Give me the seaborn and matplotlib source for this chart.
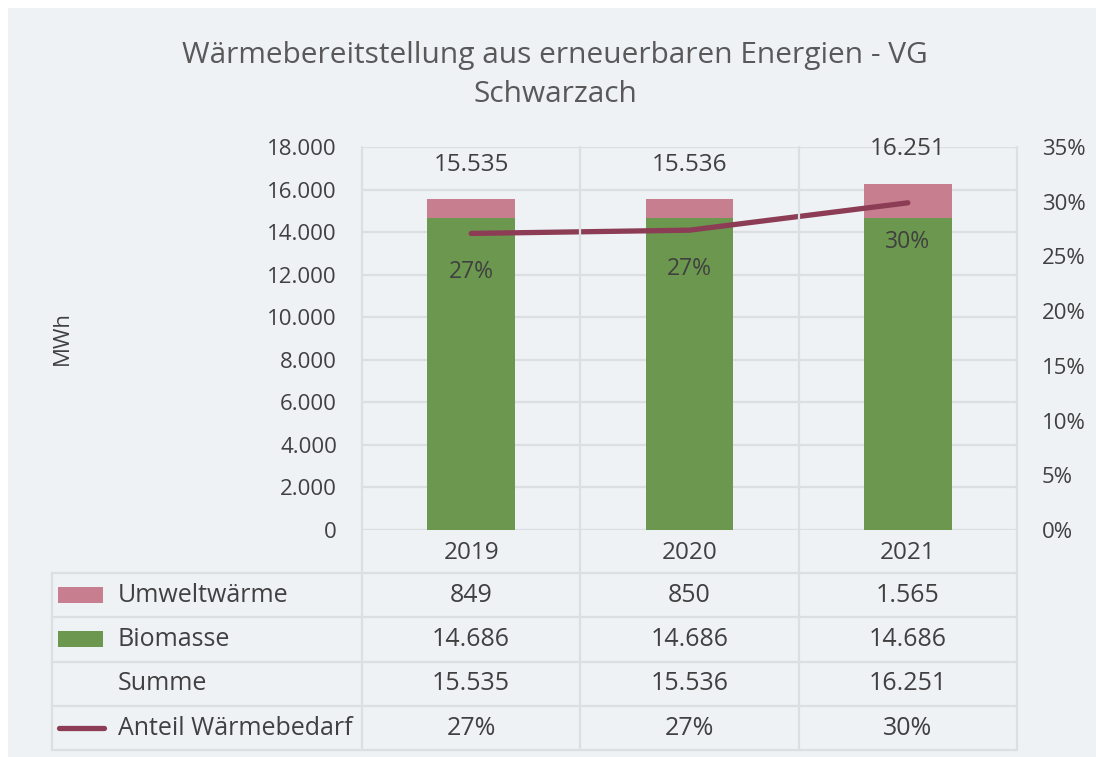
import numpy as np
import pandas as pd
import matplotlib
matplotlib.use("Agg")
import matplotlib.pyplot as plt
from matplotlib.patches import Rectangle
from matplotlib.lines import Line2D
from matplotlib.ticker import FuncFormatter
from matplotlib.transforms import blended_transform_factory
import seaborn as sns

# --- data -------------------------------------------------------------
years = ["2019", "2020", "2021"]
umweltwaerme = [849, 850, 1565]          # MWh
biomasse = [14686, 14686, 14686]         # MWh
anteil = [0.271, 0.274, 0.299]           # share of total heat demand
summe = [u + b for u, b in zip(umweltwaerme, biomasse)]

row_labels = ["Umweltwärme", "Biomasse", "Summe", "Anteil Wärmebedarf"]
title = "Wärmebereitstellung aus erneuerbaren Energien - VG\nSchwarzach"


def de(n):
    """German thousands separator."""
    return f"{int(round(n)):,}".replace(",", ".")


def pct(v):
    return f"{v * 100:.0f}%"


# --- style ------------------------------------------------------------
BG = "#EEF2F5"
GRID = "#DCDFE2"
TXT = "#404040"
PINK = "#C77E8F"
GREEN = "#6B974E"
LINE = "#8C3C55"
FS_TICK = 16
FS_LAB = 17.5
FS_TAB = 18

sns.set_theme(style="white")
plt.rcParams["font.family"] = ["Open Sans", "DejaVu Sans"]

W, H = 1096, 757
fig = plt.figure(figsize=(W / 100, H / 100), dpi=100)
fig.patch.set_facecolor("white")


def fx(px):
    return px / W


def fy(py):
    return 1 - py / H


fig.add_artist(Rectangle((fx(8), 0), 1 - fx(8), fy(8), transform=fig.transFigure,
                         facecolor=BG, edgecolor="none", zorder=-10))

# plot area
L, R, T, B = 362, 1017, 147, 530
ax = fig.add_axes([fx(L), fy(B), fx(R) - fx(L), fy(T) - fy(B)])
ax.set_facecolor("none")

df = pd.DataFrame({"Jahr": years, "Umweltwärme": umweltwaerme,
                   "Biomasse": biomasse, "Summe": summe, "Anteil": anteil})

# stacked columns: total (pink top part) with biomass drawn over it
sns.barplot(data=df, x="Jahr", y="Summe", color=PINK, width=0.4, saturation=1,
            linewidth=0, ax=ax, zorder=2)
sns.barplot(data=df, x="Jahr", y="Biomasse", color=GREEN, width=0.4, saturation=1,
            linewidth=0, ax=ax, zorder=3)

ax.set_ylim(0, 18000)
ax.set_yticks(np.arange(0, 18001, 2000))
ax.yaxis.set_major_formatter(FuncFormatter(lambda v, p: de(v)))
ax.yaxis.grid(True, color=GRID, lw=1.6)
ax.set_axisbelow(True)
ax.tick_params(axis="y", length=0, pad=18, labelsize=FS_TICK, labelcolor=TXT)
ax.tick_params(axis="x", length=0, pad=8, labelsize=FS_LAB, labelcolor=TXT)
ax.set_xlabel("")
ax.set_ylabel("")
for s in ax.spines.values():
    s.set_visible(False)

# total labels above columns
for i, s in enumerate(summe):
    ax.annotate(de(s), (i, s), xytext=(0, 25), textcoords="offset points",
                ha="center", va="center", fontsize=FS_LAB, color=TXT, zorder=5)

# share line on secondary axis
ax2 = ax.twinx()
sns.lineplot(x=np.arange(len(years)), y=anteil, ax=ax2, color=LINE, lw=3.8,
             solid_capstyle="round", zorder=4)
ax2.set_ylim(0, 0.35)
ax2.set_yticks(np.arange(0, 0.351, 0.05))
ax2.yaxis.set_major_formatter(FuncFormatter(lambda v, p: pct(v)))
ax2.tick_params(axis="y", length=0, pad=18, labelsize=FS_TICK, labelcolor=TXT)
ax2.grid(False)
ax2.set_ylabel("")
for s in ax2.spines.values():
    s.set_visible(False)
for i, a in enumerate(anteil):
    ax2.annotate(pct(a), (i, a), xytext=(0, -28), textcoords="offset points",
                 ha="center", va="center", fontsize=16.5, color=TXT, zorder=5)

ax.set_xlim(-0.5, len(years) - 0.5)

# --- data table below the plot ---------------------------------------
bt = blended_transform_factory(ax.transData, fig.transFigure)
tab_left = 52
row_top = 573
row_h = 44.3
n_rows = len(row_labels)
tab_bottom = row_top + n_rows * row_h

# vertical separators (category borders) from plot top to table bottom
for xe in np.arange(len(years) + 1) - 0.5:
    fig.add_artist(Line2D([xe, xe], [fy(T), fy(tab_bottom)], transform=bt,
                          color=GRID, lw=1.6, zorder=1))
fig.add_artist(Line2D([fx(tab_left)] * 2, [fy(row_top), fy(tab_bottom)],
                      transform=fig.transFigure, color=GRID, lw=1.6, zorder=1))
for k in range(n_rows + 1):
    yy = fy(row_top + k * row_h)
    fig.add_artist(Line2D([fx(tab_left), fx(R)], [yy, yy], transform=fig.transFigure,
                          color=GRID, lw=1.6, zorder=1))

rows = [[de(v) for v in umweltwaerme], [de(v) for v in biomasse],
        [de(v) for v in summe], [pct(v) for v in anteil]]
for k, (lab, vals) in enumerate(zip(row_labels, rows)):
    yc = fy(row_top + (k + 0.5) * row_h)
    fig.text(fx(118), yc, lab, ha="left", va="center", fontsize=FS_TAB, color=TXT)
    for i, v in enumerate(vals):
        fig.text(i, yc, v, transform=bt, ha="center", va="center",
                 fontsize=FS_TAB, color=TXT)

# legend keys
def key_rect(k, color):
    yc = row_top + (k + 0.5) * row_h
    fig.add_artist(Rectangle((fx(58), fy(yc + 8)), fx(103) - fx(58), 16 / H,
                             transform=fig.transFigure, facecolor=color,
                             edgecolor="none"))

key_rect(0, PINK)
key_rect(1, GREEN)
yc = fy(row_top + 3.5 * row_h)
fig.add_artist(Line2D([fx(59), fx(104)], [yc, yc], transform=fig.transFigure,
                      color=LINE, lw=3.8, solid_capstyle="round"))

# title and axis label
fig.text(fx(555), fy(75), title, ha="center", va="center", fontsize=21.5,
         color="#595959", linespacing=1.42)
fig.text(fx(62), fy((T + B) / 2), "MWh", rotation=90, ha="center", va="center",
         fontsize=FS_TICK, color=TXT)

fig.savefig("out.png", dpi=100)
